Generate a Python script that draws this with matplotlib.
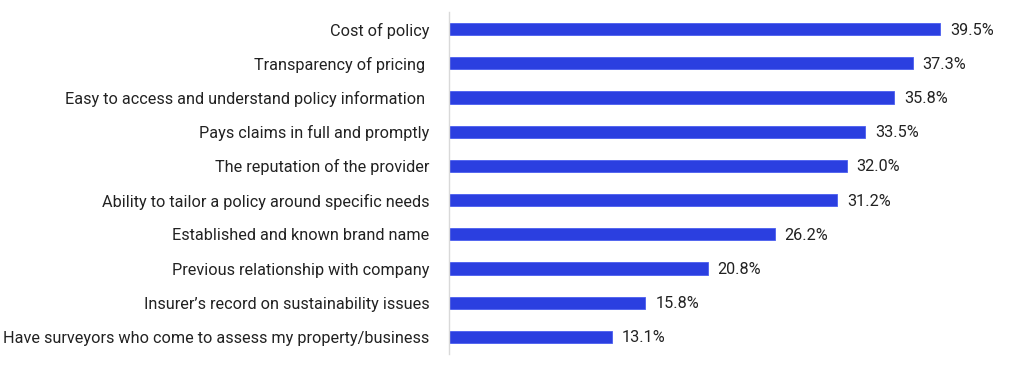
import matplotlib
matplotlib.use('Agg')
import matplotlib.pyplot as plt

plt.rcParams['font.family'] = ['Roboto', 'DejaVu Sans']

# 数据
labels = [
    'Cost of policy',
    'Transparency of pricing ',
    'Easy to access and understand policy information ',
    'Pays claims in full and promptly',
    'The reputation of the provider',
    'Ability to tailor a policy around specific needs',
    'Established and known brand name',
    'Previous relationship with company',
    'Insurer\u2019s record on sustainability issues',
    'Have surveyors who come to assess my property/business',
]
values = [39.5, 37.3, 35.8, 33.5, 32.0, 31.2, 26.2, 20.8, 15.8, 13.1]

fig = plt.figure(figsize=(10.24, 3.68), dpi=100)
ax = fig.add_axes([449 / 1024, 14 / 368, (1014 - 449) / 1024, 342 / 368])

y = list(range(len(labels)))
ax.barh(y, values, height=0.36, color='#2b3fe0', edgecolor='#4a5ef0', linewidth=0.6)
for yi, v in zip(y, values):
    ax.text(v + 0.8, yi + 0.03, f'{v:.1f}%', va='center', ha='left', fontsize=11.7, color='#222222')

ax.set_yticks(y)
ax.set_yticklabels(labels, fontsize=11.7, color='#222222')
ax.set_ylim(len(labels) - 0.5, -0.5)
ax.set_xlim(0, 45.45)
ax.set_xticks([])
ax.tick_params(axis='y', length=0, pad=14)
for s in ['top', 'right', 'bottom']:
    ax.spines[s].set_visible(False)
ax.spines['left'].set_color('#d9d9d9')
ax.spines['left'].set_linewidth(1)

plt.savefig('out.png', dpi=100)
